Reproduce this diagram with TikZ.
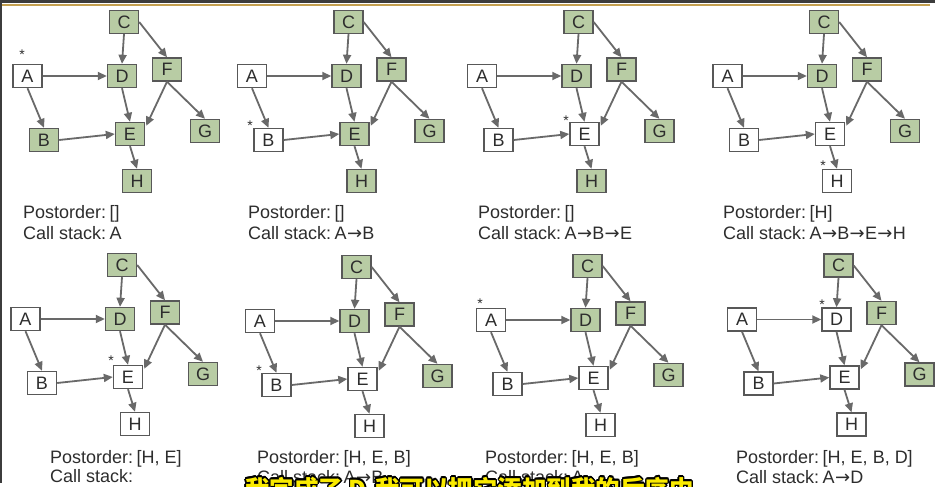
\documentclass[tikz,border=0pt]{standalone}
\usepackage{fontspec}
\setmainfont{Liberation Sans}
\newfontfamily\cjkfont{Noto Sans CJK SC}
\newfontfamily\arrowfont{DejaVu Sans}
\usepackage[copies]{contour}
\contourlength{1.3pt}
\usetikzlibrary{arrows.meta,calc}
\definecolor{nodegreen}{RGB}{184,204,164}
\definecolor{bordergray}{RGB}{88,88,88}
\definecolor{arrowgray}{RGB}{105,105,105}
\definecolor{txtgray}{RGB}{45,45,45}
\definecolor{topdark}{RGB}{60,60,60}
\definecolor{topgold}{RGB}{196,160,80}
\definecolor{subyellow}{RGB}{250,235,0}
\newcommand{\stk}{{\arrowfont\fontsize{18}{18}\selectfont\kern0.3pt→\kern0.3pt}}
\newcommand{\csp}{\hspace{3.5pt}}
\tikzset{
  nd/.style={draw=bordergray, line width=1.4pt, minimum width=29pt, minimum height=23pt,
    inner sep=0pt, font=\fontsize{18}{18}\selectfont, text=txtgray, fill=nodegreen},
  ndA/.style={}, ndB/.style={}, ndC/.style={}, ndD/.style={},
  ndE/.style={}, ndF/.style={}, ndG/.style={}, ndH/.style={},
  arr/.style={draw=arrowgray, line width=1.8pt, -{Triangle[length=9pt,width=8pt]}},
  lbl/.style={anchor=base west, inner sep=0pt, font=\fontsize{18}{18}\selectfont, text=txtgray},
  starlbl/.style={anchor=base, inner sep=0pt, font=\fontsize{14}{14}\selectfont, text=txtgray},
  done/.style={fill=white}
}
\newcommand{\dagpanel}[4]{%
\begin{scope}[shift={(#1,#2)}, name prefix=#3-, #4]
\node[nd,ndC] (C) at (124,22) {C};
\node[nd,ndA] (A) at (27.5,76) {A};
\node[nd,ndD] (D) at (122,76) {D};
\node[nd,ndF] (F) at (167,69.5) {F};
\node[nd,ndB] (B) at (44,140) {B};
\node[nd,ndE] (E) at (130,134) {E};
\node[nd,ndG] (G) at (205,131) {G};
\node[nd,ndH] (H) at (137,181) {H};
\draw[arr] (A.east) -- (D.west);
\draw[arr] (A.south) -- (B.north);
\draw[arr] (C.south) -- (D.north);
\draw[arr] (C.east) -- (F.north);
\draw[arr] (D.south) -- (E.north);
\draw[arr] (F.south) -- ($(E.north east)+(1,4)$);
\draw[arr] (F.south) -- (G.north);
\draw[arr] (B.east) -- (E.west);
\draw[arr] (E.south) -- (H.north);
\end{scope}}
\begin{document}
\begin{tikzpicture}[x=1pt,y=-1pt]
\useasboundingbox (0,0) rectangle (935,487);
\fill[white] (0,0) rectangle (935,487);
\fill[topdark] (0,0) rectangle (935,3);
\fill[topgold] (0,4) rectangle (930,6.5);
\fill[topdark] (0,0) rectangle (1.5,483);

% panel 1
\dagpanel{0}{0}{p1}{ndA/.style={done}}
\node[starlbl] (p1-star) at (22,60) {*};
\node[lbl] (p1-post) at (23,218) {Postorder:\csp[]};
\node[lbl] (p1-call) at (23,239.5) {Call stack:\csp A};

% panel 2
\dagpanel{224.5}{0}{p2}{ndA/.style={done}, ndB/.style={done}}
\node[starlbl] (p2-star) at (250,130) {*};
\node[lbl] (p2-post) at (248,218) {Postorder:\csp[]};
\node[lbl] (p2-call) at (248,239.5) {Call stack:\csp A\stk B};

% panel 3
\dagpanel{454.5}{0}{p3}{ndA/.style={done}, ndB/.style={done}, ndE/.style={done}}
\node[starlbl] (p3-star) at (566,125) {*};
\node[lbl] (p3-post) at (478,218) {Postorder:\csp[]};
\node[lbl] (p3-call) at (478,239.5) {Call stack:\csp A\stk B\stk E};

% panel 4
\dagpanel{700}{0}{p4}{ndA/.style={done}, ndB/.style={done}, ndE/.style={done}, ndH/.style={done}}
\node[starlbl] (p4-star) at (823,170) {*};
\node[lbl] (p4-post) at (723,218) {Postorder:\csp[H]};
\node[lbl] (p4-call) at (723,239.5) {Call stack:\csp A\stk B\stk E\stk H};

% panel 5
\dagpanel{-2}{243}{p5}{ndA/.style={done}, ndB/.style={done}, ndE/.style={done}, ndH/.style={done}}
\node[starlbl] (p5-star) at (111,365) {*};
\node[lbl] (p5-post) at (50,463) {Postorder:\csp[H, E]};
\node[lbl] (p5-call) at (50,482) {Call stack:};

% panel 6
\dagpanel{232.5}{245}{p6}{ndA/.style={done}, ndB/.style={done}, ndE/.style={done}, ndH/.style={done}}
\node[starlbl] (p6-star) at (259,375) {*};
\node[lbl] (p6-post) at (257,463) {Postorder:\csp[H, E, B]};
\node[lbl] (p6-call) at (257,483) {Call stack:\csp A\stk B};

% panel 7
\dagpanel{463.5}{244}{p7}{ndA/.style={done}, ndB/.style={done}, ndE/.style={done}, ndH/.style={done}}
\node[starlbl] (p7-star) at (480,308) {*};
\node[lbl] (p7-post) at (485,463) {Postorder:\csp[H, E, B]};
\node[lbl] (p7-call) at (485,483) {Call stack:\csp A};

% panel 8
\dagpanel{714.5}{243.5}{p8}{ndA/.style={done}, ndB/.style={done}, ndD/.style={done}, ndE/.style={done}, ndH/.style={done}}
\node[starlbl] (p8-star) at (822,309) {*};
\node[lbl] (p8-post) at (736,463) {Postorder:\csp[H, E, B, D]};
\node[lbl] (p8-call) at (736,483) {Call stack:\csp A\stk D};

% subtitle
\node[anchor=base west, inner sep=0pt, text=subyellow,
  font=\cjkfont\bfseries\fontsize{24.5}{24.5}\selectfont] (subtitle) at (245,498)
  {\contour{black}{我完成了 D,我可以把它添加到我的后序中}};
\end{tikzpicture}
\end{document}
